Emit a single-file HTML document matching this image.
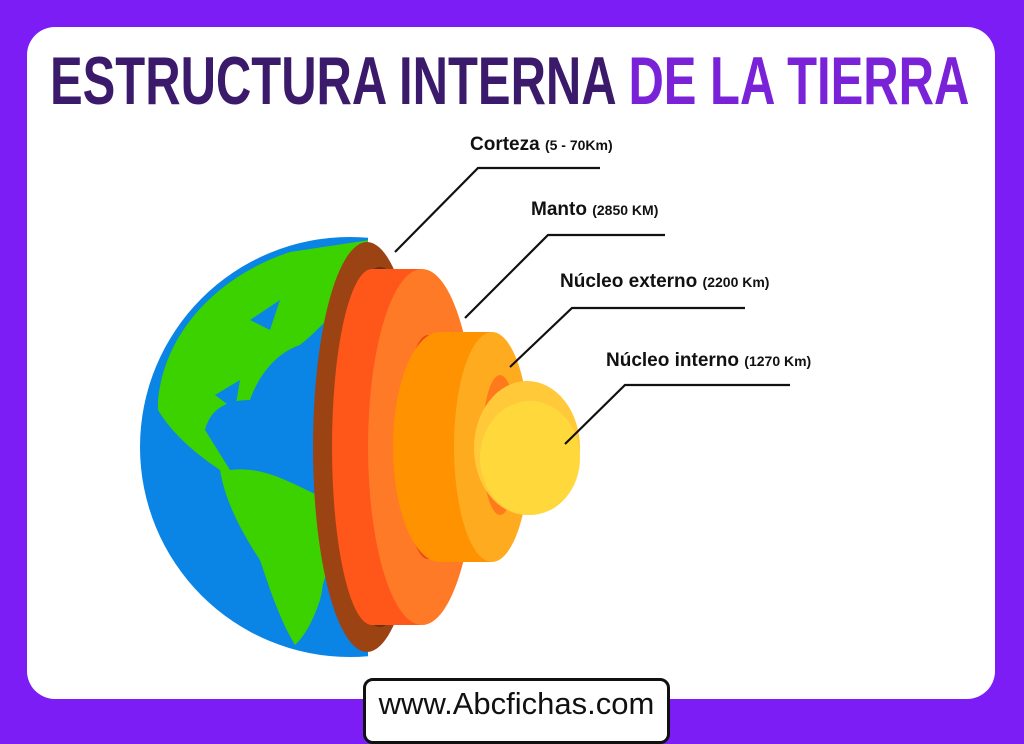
<!DOCTYPE html>
<html><head><meta charset="utf-8"><style>
html,body{margin:0;padding:0}
body{width:1024px;height:725px;background:#7c1df5;position:relative;overflow:hidden;font-family:"Liberation Sans",sans-serif}
.card{position:absolute;left:27px;top:27px;width:968px;height:672px;background:#fff;border-radius:28px}
.title{position:absolute;left:50px;top:44px;font-weight:bold;font-size:68px;line-height:74px;color:#3b1a6b;white-space:nowrap;transform:scaleX(0.72);transform-origin:0 0}
.title span{color:#7a22d8}
.foot{position:absolute;left:363px;top:678px;width:301px;height:60px;background:#fff;border:3px solid #111;border-radius:10px;text-align:center;font-size:31px;line-height:46px;color:#111}
svg{position:absolute;left:0;top:0}
</style></head><body>
<div class="card"></div>
<div class="title">ESTRUCTURA INTERNA <span>DE LA TIERRA</span></div>
<svg width="1024" height="725" viewBox="0 0 1024 725">
<defs><clipPath id="c"><rect x="0" y="0" width="368" height="725"/></clipPath></defs>
<g clip-path="url(#c)">
<circle cx="350" cy="447" r="210" fill="#0a85e6"/>
<g fill="#3cd200">
<path d="M158,400 C165,330 220,275 290,252 L370,240 L370,300 C340,300 320,330 300,345 C270,355 255,385 250,400 C225,400 210,410 205,430 L230,470 C250,470 280,500 310,510 C320,530 330,560 320,600 C310,630 300,640 295,645 C280,620 270,590 260,560 C240,530 225,500 220,470 C190,450 170,430 158,410 Z"/>
</g>
<path d="M250,320 L280,300 L270,330 Z" fill="#0a85e6"/>
<path d="M215,395 L240,380 L235,410 Z" fill="#0a85e6"/>
<path d="M230,470 C270,465 300,490 330,500 L330,560 C320,600 305,630 297,640 C285,610 265,570 250,540 C240,510 232,490 230,470 Z" fill="#3cd200"/>
</g>
<ellipse cx="367" cy="447" rx="54" ry="205" fill="#9c4314"/>
<ellipse cx="380" cy="447" rx="42" ry="180" fill="#6a300c"/>
<ellipse cx="372" cy="447" rx="40" ry="178" fill="#ff561a"/>
<rect x="372" y="269" width="50" height="356" fill="#ff561a"/>
<ellipse cx="422" cy="447" rx="54" ry="178" fill="#ff7a27"/>
<ellipse cx="428" cy="447" rx="26" ry="112" fill="#e84a1a"/>
<ellipse cx="440" cy="447" rx="47" ry="115" fill="#ff9200"/>
<rect x="440" y="332" width="52" height="230" fill="#ff9200"/>
<ellipse cx="492" cy="447" rx="38" ry="115" fill="#ffab1f"/>
<ellipse cx="500" cy="445" rx="18" ry="70" fill="#ff7a1a"/>
<ellipse cx="527" cy="448" rx="53" ry="67" fill="#ffc93a"/>
<ellipse cx="530" cy="458" rx="50" ry="57" fill="#ffd93c"/>
<g stroke="#111" stroke-width="2.2" fill="none">
<polyline points="395,252 478,168 600,168"/>
<polyline points="465,318 548,235 665,235"/>
<polyline points="510,367 572,308 745,308"/>
<polyline points="565,444 625,385 790,385"/>
</g>
<g font-family="Liberation Sans,sans-serif" font-weight="bold" fill="#111">
<text x="470" y="150" font-size="19">Corteza <tspan font-size="14">(5 - 70Km)</tspan></text>
<text x="531" y="215" font-size="19">Manto <tspan font-size="14">(2850 KM)</tspan></text>
<text x="560" y="287" font-size="19">Núcleo externo <tspan font-size="14">(2200 Km)</tspan></text>
<text x="606" y="366" font-size="19">Núcleo interno <tspan font-size="14">(1270 Km)</tspan></text>
</g>
</svg>
<div class="foot">www.Abcfichas.com</div>
</body></html>
